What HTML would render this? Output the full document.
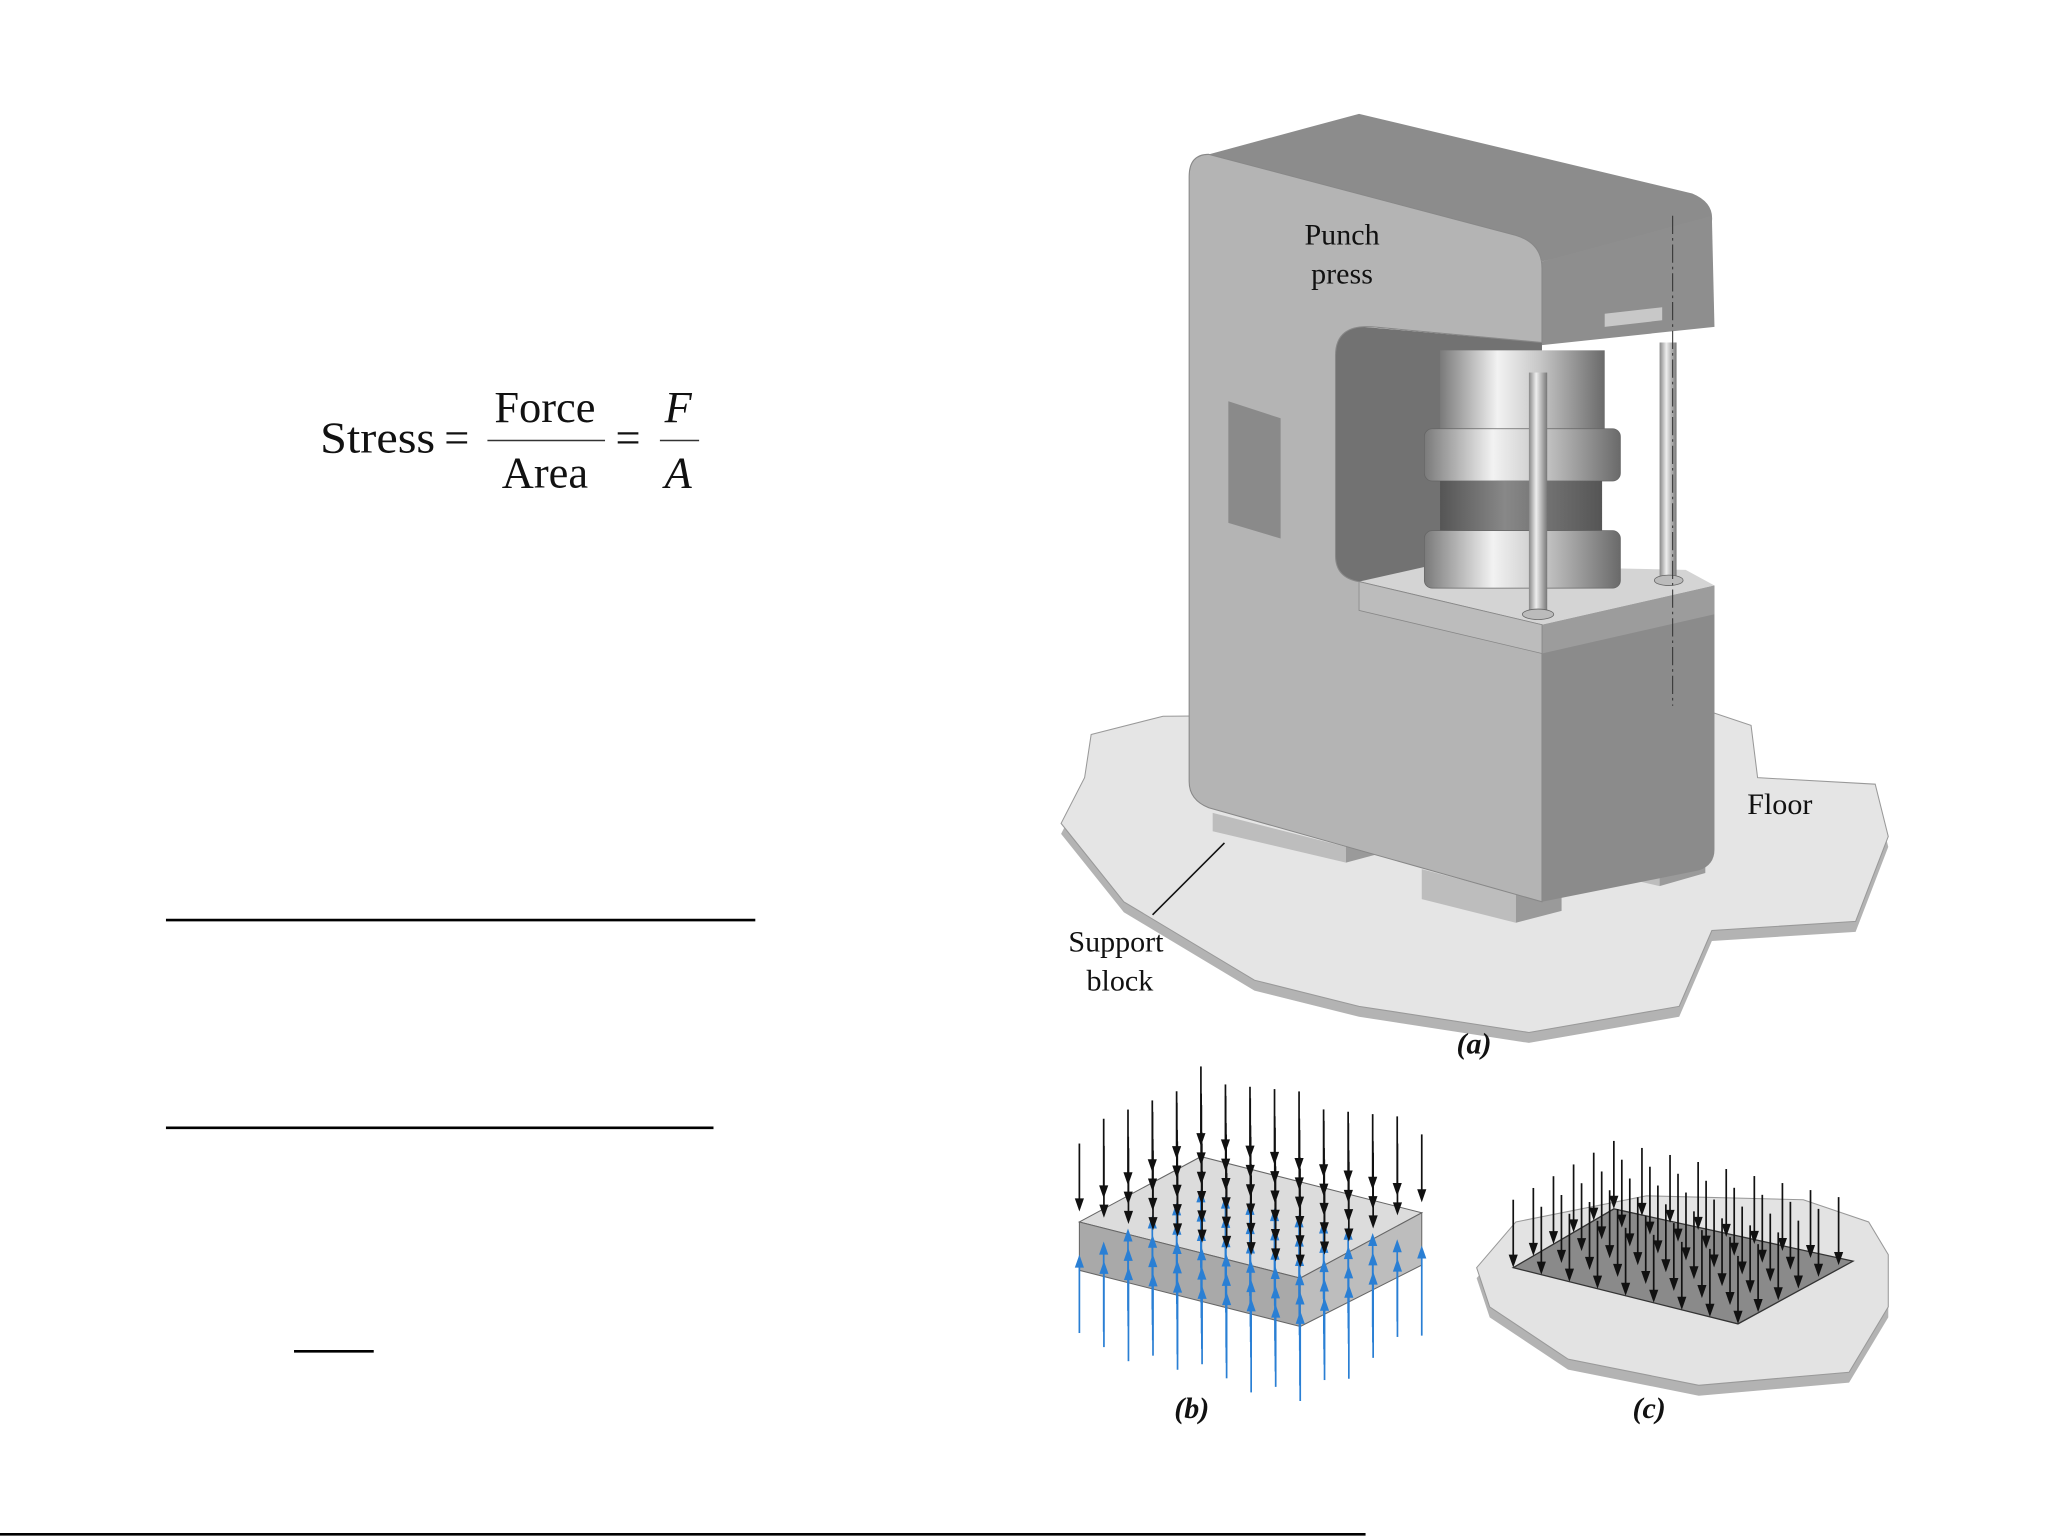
<!DOCTYPE html>
<html><head><meta charset="utf-8"><style>
html,body{margin:0;padding:0;background:#fff;}
svg{display:block;}
</style></head><body>
<svg id="s" width="2049" height="1537" viewBox="0 0 1568 1176" xmlns="http://www.w3.org/2000/svg">
<defs>
<linearGradient id="cyl" x1="0" x2="1" y1="0" y2="0">
<stop offset="0" stop-color="#7a7a7a"/><stop offset="0.35" stop-color="#f2f2f2"/><stop offset="0.6" stop-color="#c8c8c8"/><stop offset="1" stop-color="#6a6a6a"/>
</linearGradient>
<linearGradient id="col" x1="0" x2="1">
<stop offset="0" stop-color="#888"/><stop offset="0.4" stop-color="#eee"/><stop offset="1" stop-color="#777"/>
</linearGradient>
<linearGradient id="mid" x1="0" x2="1">
<stop offset="0" stop-color="#555"/><stop offset="0.4" stop-color="#888"/><stop offset="1" stop-color="#555"/>
</linearGradient>
</defs>
<g font-family="'Liberation Serif',serif" font-size="34" fill="#111">
<text x="245" y="346" textLength="88" lengthAdjust="spacingAndGlyphs">Stress</text>
<text x="340" y="346">=</text>
<text x="417" y="323" text-anchor="middle">Force</text>
<text x="417" y="373" text-anchor="middle">Area</text>
<text x="471" y="346">=</text>
<text x="519" y="323" text-anchor="middle" font-style="italic">F</text>
<text x="519" y="373" text-anchor="middle" font-style="italic">A</text>
</g>
<line x1="373" y1="337" x2="463" y2="337" stroke="#333" stroke-width="1.2"/>
<line x1="505" y1="337" x2="535" y2="337" stroke="#333" stroke-width="1.2"/>
<line x1="127" y1="704" x2="578" y2="704" stroke="#000" stroke-width="2"/>
<line x1="127" y1="863" x2="546" y2="863" stroke="#000" stroke-width="2"/>
<line x1="225" y1="1034" x2="286" y2="1034" stroke="#000" stroke-width="2"/>
<line x1="0" y1="1174" x2="1045" y2="1174" stroke="#000" stroke-width="2"/>

<path d="M835,570 L890,556 L1310,553 L1340,563 L1345,603 L1435,608 L1445,648 L1420,713 L1310,720 L1285,778 L1170,798 L1040,778 L960,758 L860,698 L812,638 L830,603 Z" fill="#b3b3b3"/>
<path d="M835,562 L890,548 L1310,545 L1340,555 L1345,595 L1435,600 L1445,640 L1420,705 L1310,712 L1285,770 L1170,790 L1040,770 L960,750 L860,690 L812,630 L830,595 Z" fill="#e5e5e5" stroke="#999" stroke-width="0.8"/>
<path d="M928,622 L1030,648 L1030,660 L928,636 Z" fill="#bdbdbd"/>
<path d="M1030,648 L1060,640 L1060,652 L1030,660 Z" fill="#9a9a9a"/>
<path d="M1088,665 L1160,684 L1160,706 L1088,688 Z" fill="#bdbdbd"/>
<path d="M1160,684 L1195,676 L1195,697 L1160,706 Z" fill="#9a9a9a"/>
<path d="M1240,655 L1270,662 L1270,678 L1240,671 Z" fill="#bdbdbd"/>
<path d="M1270,662 L1305,652 L1305,668 L1270,678 Z" fill="#9a9a9a"/>
<path d="M925,118 L1040,87 L1295,148 Q1312,155 1310,170 L1180,200 Q1176,184 1160,180 Z" fill="#8c8c8c"/>
<path d="M1180,200 L1310,165 L1312,250 L1180,264 Z" fill="#8e8e8e"/>
<path d="M1228,240 L1272,235 L1272,245 L1228,250 Z" fill="#c8c8c8"/>
<path d="M1020,248 L1180,262 L1180,440 L1020,447 Z" fill="#727272"/>
<path d="M1180,478 L1312,448 L1312,650 Q1312,662 1300,666 L1180,690 Z" fill="#8b8b8b"/>
<path d="M1040,445 L1098,432 L1290,436 L1312,448 L1180,478 Z" fill="#d4d4d4"/>
<path d="M1180,478 L1312,448 L1312,470 L1180,500 Z" fill="#9c9c9c"/>
<rect x="1102" y="268" width="126" height="60" fill="url(#cyl)"/>
<rect x="1090" y="328" width="150" height="40" rx="6" fill="url(#cyl)" stroke="#666" stroke-width="0.6"/>
<rect x="1102" y="368" width="124" height="38" fill="url(#mid)"/>
<rect x="1090" y="406" width="150" height="44" rx="6" fill="url(#cyl)" stroke="#666" stroke-width="0.6"/>
<rect x="1170" y="285" width="14" height="185" fill="url(#col)"/>
<ellipse cx="1177" cy="470" rx="12" ry="4" fill="#bbb" stroke="#666" stroke-width="0.6"/>
<rect x="1270" y="262" width="13" height="182" fill="url(#col)"/>
<ellipse cx="1277" cy="444" rx="11" ry="4" fill="#bbb" stroke="#666" stroke-width="0.6"/>
<path fill-rule="evenodd" d="M925,118 L1160,180 Q1180,186 1180,205 L1180,262 L1050,250 Q1022,248 1022,272 L1022,425 Q1022,442 1040,445 L1180,478 L1180,690 L925,618 Q910,612 910,598 L910,135 Q910,118 925,118 Z" fill="#b4b4b4" stroke="#888" stroke-width="0.8"/>
<path d="M1040,445 L1180,478 L1180,500 L1040,467 Z" fill="#bcbcbc" stroke="#888" stroke-width="0.6"/>
<path d="M940,307 L980,320 L980,412 L940,400 Z" fill="#8a8a8a"/>
<line x1="1280" y1="165" x2="1280" y2="540" stroke="#333" stroke-width="0.8" stroke-dasharray="14,3,2,3"/>
<line x1="937" y1="645" x2="882" y2="700" stroke="#111" stroke-width="1.2"/>
<g font-family="'Liberation Serif',serif" font-size="23" fill="#111" text-anchor="middle">
<text x="1027" y="187">Punch</text>
<text x="1027" y="217">press</text>
<text x="1362" y="623">Floor</text>
<text x="854" y="728">Support</text>
<text x="857" y="758">block</text>
<text x="1128" y="806" font-style="italic" font-weight="bold">(a)</text>
<text x="912" y="1085" font-style="italic" font-weight="bold">(b)</text>
<text x="1262" y="1085" font-style="italic" font-weight="bold">(c)</text>
</g>

<path d="M1130,978 L1160,943 L1260,923 L1380,926 L1430,943 L1445,968 L1445,1008 L1415,1058 L1300,1068 L1200,1048 L1140,1008 Z" fill="#b3b3b3"/>
<path d="M1130,970 L1160,935 L1260,915 L1380,918 L1430,935 L1445,960 L1445,1000 L1415,1050 L1300,1060 L1200,1040 L1140,1000 Z" fill="#e3e3e3" stroke="#999" stroke-width="0.8"/>
<path d="M1158,970 L1235,925 L1418,965 L1330,1013 Z" fill="#8a8a8a" stroke="#333" stroke-width="1"/>

<path d="M826,935 L919,885 L1088,928 L995,978 Z" fill="#dcdcdc" stroke="#666" stroke-width="0.8"/>
<path d="M826,935 L995,978 L995,1015 L826,972 Z" fill="#a9a9a9" stroke="#666" stroke-width="0.8"/>
<path d="M995,978 L1088,928 L1088,968 L995,1015 Z" fill="#bdbdbd" stroke="#666" stroke-width="0.8"/>
<g id="arrows"></g>
</svg>
<script>
var g=document.getElementById('arrows'),ns='http://www.w3.org/2000/svg';
function arrow(x1,y1,x2,y2,c){
 var l=document.createElementNS(ns,'line');
 l.setAttribute('x1',x1);l.setAttribute('y1',y1);l.setAttribute('x2',x2);l.setAttribute('y2',y2+(y2>y1?-8:8));
 l.setAttribute('stroke',c);l.setAttribute('stroke-width','1.3');g.appendChild(l);
 var p=document.createElementNS(ns,'polygon');var d=y2>y1?-10:10;
 p.setAttribute('points',x2+','+y2+' '+(x2-3.5)+','+(y2+d)+' '+(x2+3.5)+','+(y2+d));
 p.setAttribute('fill',c);g.appendChild(p);
}
var P=[826,935],E1=[169,43],E2=[93,-50];
for(var i=0;i<=9;i++)for(var j=0;j<=5;j++){
 var x=P[0]+E1[0]*i/9+E2[0]*j/5, y=P[1]+E1[1]*i/9+E2[1]*j/5;
 arrow(x,y+85+((i*7+j*3)%5)*3,x,y+25,'#2a7fd4');
}
for(var i=0;i<=9;i++)for(var j=0;j<=5;j++){
 var x=P[0]+E1[0]*i/9+E2[0]*j/5, y=P[1]+E1[1]*i/9+E2[1]*j/5;
 arrow(x,y-60-((i*5+j*3)%4)*3,x,y-8,'#111');
}
var Q=[1158,970],F1=[172,43],F2=[77,-45];
for(var i=0;i<=8;i++)for(var j=0;j<=5;j++){
 var x=Q[0]+F1[0]*i/8+F2[0]*j/5, y=Q[1]+F1[1]*i/8+F2[1]*j/5;
 arrow(x,y-52,x,y,'#111');
}
</script>
</body></html>
